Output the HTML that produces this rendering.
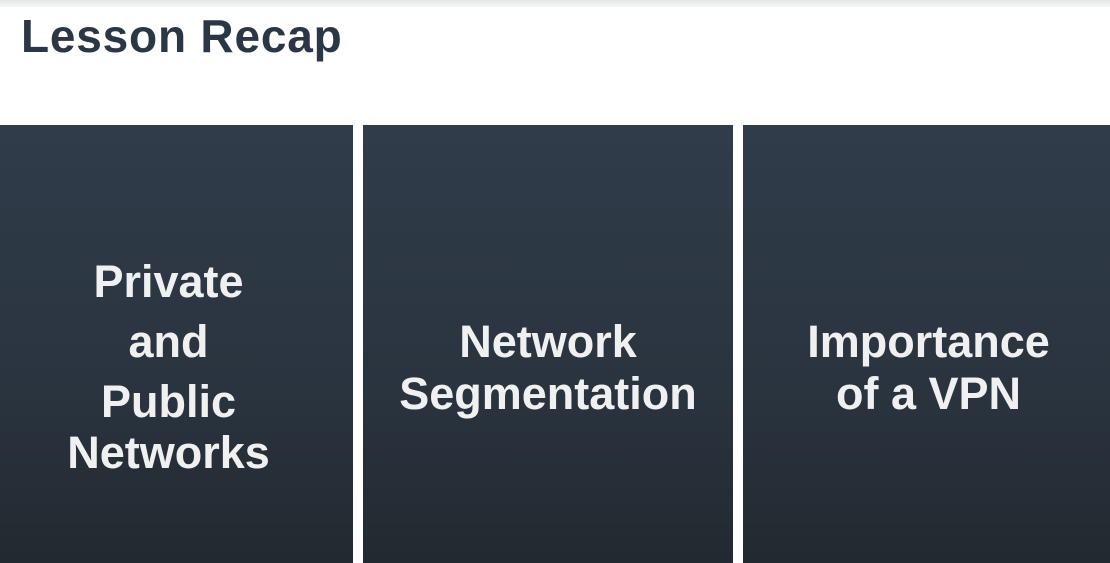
<!DOCTYPE html>
<html><head><style>
html,body{margin:0;padding:0;width:1110px;height:563px;overflow:hidden;background:#fff;position:relative;font-family:"Liberation Sans",sans-serif}
.bar{position:absolute;left:0;top:0;width:1110px;height:7px;background:linear-gradient(#e4e6e8,#f4f5f6)}
h1{position:absolute;left:21px;top:9px;margin:0;font-size:46px;font-weight:bold;color:#2b3744;letter-spacing:0.8px}
.p{position:absolute;top:125px;height:438px;background:linear-gradient(#303c4a,#2a343f 60%,#222930);color:#f0f0f0;font-size:45px;font-weight:bold;text-align:center}
.p div{position:absolute;left:0;right:0}
</style></head><body>
<div class="bar"></div>
<h1>Lesson Recap</h1>
<div class="p" style="left:0;width:353px">
<div style="top:127px;line-height:60px;left:-16px">Private<br>and<br>Public</div>
<div style="top:303px;line-height:50px;left:-16px">Networks</div>
</div>
<div class="p" style="left:363px;width:370px">
<div style="top:191px;line-height:52px">Network<br>Segmentation</div>
</div>
<div class="p" style="left:743px;width:367px">
<div style="top:191px;line-height:52px;left:4px">Importance<br>of a VPN</div>
</div>
</body></html>
